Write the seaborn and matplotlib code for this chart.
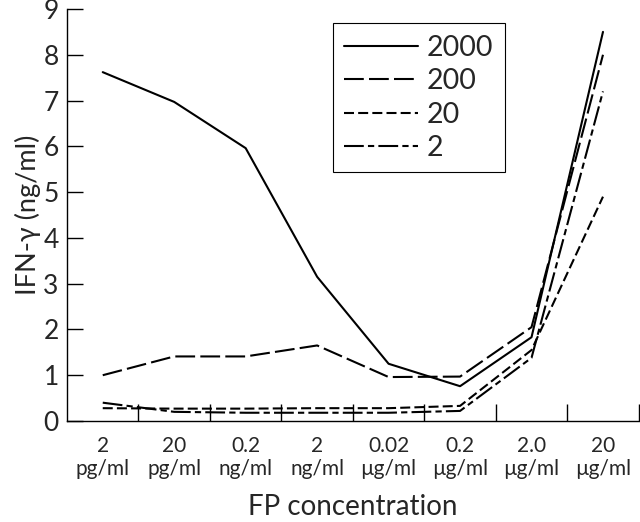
import pandas as pd
import matplotlib
matplotlib.use("Agg")
import matplotlib.pyplot as plt
import seaborn as sns

# Values
conc_labels = ["2\npg/ml", "20\npg/ml", "0.2\nng/ml", "2\nng/ml",
               "0.02\n\u00b5g/ml", "0.2\n\u00b5g/ml", "2.0\n\u00b5g/ml", "20\n\u00b5g/ml"]
ifn_2000 = [7.62, 6.97, 5.96, 3.15, 1.25, 0.76, 1.83, 8.5]
ifn_200 = [1.0, 1.41, 1.41, 1.65, 0.96, 0.97, 2.05, 8.0]
ifn_20 = [0.28, 0.27, 0.27, 0.28, 0.28, 0.33, 1.55, 4.9]
ifn_2 = [0.4, 0.2, 0.18, 0.18, 0.18, 0.22, 1.38, 7.2]
series_names = ["2000", "200", "20", "2"]

pos = list(range(len(conc_labels)))
df = pd.DataFrame({"pos": pos, "2000": ifn_2000, "200": ifn_200, "20": ifn_20, "2": ifn_2})

sns.set_theme(style="ticks")
plt.rcParams["font.family"] = ["Lato", "DejaVu Sans"]

styles = {
    "2000": "-",
    "200": (0, (9.5, 2.5)),
    "20": (0, (4.8, 2.0)),
    "2": (0, (9.5, 2.0, 3.0, 2.0)),
}

fig = plt.figure(figsize=(6.4, 5.22), dpi=100)
ax = fig.add_axes([0.1047, 0.1935, 0.8933, 0.7893])

for name in series_names:
    sns.lineplot(x=df["pos"], y=df[name], label=name, color="black",
                 linewidth=1.5, linestyle=styles[name], ax=ax)

ax.set_xlim(-0.5, 7.5)
ax.set_ylim(0, 9)
ax.set_yticks(range(0, 10))
ax.set_xticks(pos)
ax.set_xticklabels(conc_labels, fontsize=15, linespacing=1.2)
ax.set_xticks([p + 0.5 for p in pos], minor=True)
ax.tick_params(axis="x", which="major", length=0, pad=11)
ax.tick_params(axis="x", which="minor", direction="in", length=12, width=1, color="black")
ax.tick_params(axis="y", direction="in", length=11.5, width=1, pad=6,
               labelsize=19, color="black")
ax.set_xlabel("FP concentration", fontsize=20, labelpad=10.5)
ax.set_ylabel("IFN-\u03b3 (ng/ml)", fontsize=19.5, labelpad=2)
for s in ["top", "right"]:
    ax.spines[s].set_visible(False)
for s in ["left", "bottom"]:
    ax.spines[s].set_color("black")
    ax.spines[s].set_linewidth(1)

leg = ax.legend(loc="upper left", bbox_to_anchor=(0.465, 0.965), borderaxespad=0,
                fontsize=20.5, handlelength=2.6, handletextpad=0.3, labelspacing=0.26,
                fancybox=False, framealpha=1, edgecolor="black", borderpad=0.4)
leg.get_frame().set_linewidth(0.8)

fig.savefig("out.png", dpi=100)
